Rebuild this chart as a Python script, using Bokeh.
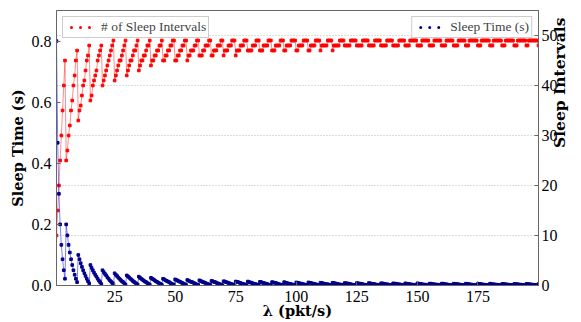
import math
import numpy as np
from bokeh.plotting import figure
from bokeh.models import (Range1d, LinearAxis, FixedTicker, PrintfTickFormatter, Grid,
                          Legend, LegendItem, ColumnDataSource)
from bokeh.embed import file_html
from bokeh.resources import INLINE

# lambda grid (pkt/s), sampled every 0.5 from 1 to 200
lam = np.arange(1, 200.5, 0.5)

# Sleep Time (s)
sleep_time = [
    0.8, 0.467, 0.3, 0.2, 0.133, 0.086, 0.05, 0.022,
    0.2, 0.164, 0.133, 0.108, 0.086, 0.067, 0.05, 0.035, 0.022, 0.011,
    0.1, 0.086, 0.073, 0.061, 0.05, 0.04, 0.031, 0.022, 0.014, 0.007,
    0.067, 0.058, 0.05, 0.042, 0.035, 0.029, 0.022, 0.016, 0.011, 0.005,
    0.05, 0.044, 0.038, 0.033, 0.027, 0.022, 0.017, 0.013, 0.008, 0.004,
    0.04, 0.035, 0.031, 0.026, 0.022, 0.018, 0.014, 0.011, 0.007, 0.003,
    0.033, 0.03, 0.026, 0.022, 0.019, 0.015, 0.012, 0.009, 0.006, 0.003,
    0.029, 0.025, 0.022, 0.019, 0.016, 0.013, 0.011, 0.008, 0.005, 0.003,
    0.025, 0.022, 0.02, 0.017, 0.014, 0.012, 0.009, 0.007, 0.005, 0.002,
    0.022, 0.02, 0.017, 0.015, 0.013, 0.011, 0.008, 0.006, 0.004, 0.002,
    0.02, 0.018, 0.016, 0.014, 0.012, 0.01, 0.008, 0.006, 0.004, 0.002,
    0.018, 0.016, 0.014, 0.012, 0.011, 0.009, 0.007, 0.005, 0.003, 0.002,
    0.017, 0.015, 0.013, 0.011, 0.01, 0.008, 0.006, 0.005, 0.003, 0.002,
    0.015, 0.014, 0.012, 0.011, 0.009, 0.007, 0.006, 0.004, 0.003, 0.001,
    0.014, 0.013, 0.011, 0.01, 0.008, 0.007, 0.005, 0.004, 0.003, 0.001,
    0.013, 0.012, 0.011, 0.009, 0.008, 0.006, 0.005, 0.004, 0.003, 0.001,
    0.013, 0.011, 0.01, 0.009, 0.007, 0.006, 0.005, 0.004, 0.002, 0.001,
    0.012, 0.011, 0.009, 0.008, 0.007, 0.006, 0.005, 0.003, 0.002, 0.001,
    0.011, 0.01, 0.009, 0.008, 0.007, 0.005, 0.004, 0.003, 0.002, 0.001,
    0.011, 0.009, 0.008, 0.007, 0.006, 0.005, 0.004, 0.003, 0.002, 0.001,
    0.01, 0.009, 0.008, 0.007, 0.006, 0.005, 0.004, 0.003, 0.002, 0.001,
    0.01, 0.009, 0.008, 0.007, 0.006, 0.005, 0.004, 0.003, 0.002, 0.001,
    0.009, 0.008, 0.007, 0.006, 0.005, 0.004, 0.004, 0.003, 0.002, 0.001,
    0.009, 0.008, 0.007, 0.006, 0.005, 0.004, 0.003, 0.003, 0.002, 0.001,
    0.008, 0.007, 0.007, 0.006, 0.005, 0.004, 0.003, 0.002, 0.002, 0.001,
    0.008, 0.007, 0.006, 0.006, 0.005, 0.004, 0.003, 0.002, 0.002, 0.001,
    0.008, 0.007, 0.006, 0.005, 0.005, 0.004, 0.003, 0.002, 0.001, 0.001,
    0.007, 0.007, 0.006, 0.005, 0.004, 0.004, 0.003, 0.002, 0.001, 0.001,
    0.007, 0.006, 0.006, 0.005, 0.004, 0.004, 0.003, 0.002, 0.001, 0.001,
    0.007, 0.006, 0.005, 0.005, 0.004, 0.003, 0.003, 0.002, 0.001, 0.001,
    0.007, 0.006, 0.005, 0.005, 0.004, 0.003, 0.003, 0.002, 0.001, 0.001,
    0.006, 0.006, 0.005, 0.004, 0.004, 0.003, 0.003, 0.002, 0.001, 0.001,
    0.006, 0.006, 0.005, 0.004, 0.004, 0.003, 0.002, 0.002, 0.001, 0.001,
    0.006, 0.005, 0.005, 0.004, 0.004, 0.003, 0.002, 0.002, 0.001, 0.001,
    0.006, 0.005, 0.005, 0.004, 0.003, 0.003, 0.002, 0.002, 0.001, 0.001,
    0.006, 0.005, 0.005, 0.004, 0.003, 0.003, 0.002, 0.002, 0.001, 0.001,
    0.006, 0.005, 0.004, 0.004, 0.003, 0.003, 0.002, 0.002, 0.001, 0.001,
    0.005, 0.005, 0.004, 0.004, 0.003, 0.003, 0.002, 0.002, 0.001, 0.001,
    0.005, 0.005, 0.004, 0.004, 0.003, 0.003, 0.002, 0.002, 0.001, 0.001,
    0.005, 0.005, 0.004, 0.004, 0.003, 0.003, 0.002, 0.002, 0.001, 0.001,
    0.005,
]

# # of Sleep Intervals
n_intervals = [
    10, 15, 20, 25, 30, 35, 40, 45,
    25, 27, 30, 32, 35, 37, 40, 42, 45, 47,
    33, 35, 36, 38, 40, 41, 43, 45, 46, 48,
    37, 38, 40, 41, 42, 43, 45, 46, 47, 48,
    40, 41, 42, 43, 44, 45, 46, 47, 48, 49,
    41, 42, 43, 44, 45, 45, 46, 47, 48, 49,
    42, 43, 44, 45, 45, 46, 47, 47, 48, 49,
    43, 44, 45, 45, 46, 46, 47, 48, 48, 49,
    44, 45, 45, 46, 46, 47, 47, 48, 48, 49,
    45, 45, 46, 46, 47, 47, 48, 48, 49, 49,
    45, 45, 46, 46, 47, 47, 48, 48, 49, 49,
    45, 46, 46, 47, 47, 47, 48, 48, 49, 49,
    46, 46, 46, 47, 47, 48, 48, 48, 49, 49,
    46, 46, 47, 47, 47, 48, 48, 48, 49, 49,
    46, 47, 47, 47, 48, 48, 48, 49, 49, 49,
    46, 47, 47, 47, 48, 48, 48, 49, 49, 49,
    47, 47, 47, 47, 48, 48, 48, 49, 49, 49,
    47, 47, 47, 48, 48, 48, 48, 49, 49, 49,
    47, 47, 47, 48, 48, 48, 48, 49, 49, 49,
    47, 47, 48, 48, 48, 48, 49, 49, 49, 49,
    47, 47, 48, 48, 48, 48, 49, 49, 49, 49,
    47, 47, 48, 48, 48, 48, 49, 49, 49, 49,
    47, 48, 48, 48, 48, 48, 49, 49, 49, 49,
    47, 48, 48, 48, 48, 48, 49, 49, 49, 49,
    48, 48, 48, 48, 48, 49, 49, 49, 49, 49,
    48, 48, 48, 48, 48, 49, 49, 49, 49, 49,
    48, 48, 48, 48, 48, 49, 49, 49, 49, 49,
    48, 48, 48, 48, 48, 49, 49, 49, 49, 49,
    48, 48, 48, 48, 48, 49, 49, 49, 49, 49,
    48, 48, 48, 48, 49, 49, 49, 49, 49, 49,
    48, 48, 48, 48, 49, 49, 49, 49, 49, 49,
    48, 48, 48, 48, 49, 49, 49, 49, 49, 49,
    48, 48, 48, 48, 49, 49, 49, 49, 49, 49,
    48, 48, 48, 48, 49, 49, 49, 49, 49, 49,
    48, 48, 48, 49, 49, 49, 49, 49, 49, 49,
    48, 48, 48, 49, 49, 49, 49, 49, 49, 49,
    48, 48, 48, 49, 49, 49, 49, 49, 49, 49,
    48, 48, 48, 49, 49, 49, 49, 49, 49, 49,
    48, 48, 48, 49, 49, 49, 49, 49, 49, 49,
    48, 48, 49, 49, 49, 49, 49, 49, 49, 49,
    48,
]

x_ticks = [25, 50, 75, 100, 125, 150, 175]
left_ticks = [0.0, 0.2, 0.4, 0.6, 0.8]
right_ticks = [0, 10, 20, 30, 40, 50]
grid_ticks = [10, 20, 30, 40, 50]

FONT = "Liberation Serif"
LFONT = "DejaVu Serif"
AX = "#666666"

src = ColumnDataSource(dict(lam=lam, s=sleep_time, n=n_intervals))

p = figure(width=581, height=322, output_backend="svg", toolbar_location=None,
           x_range=Range1d(1, 200), y_range=Range1d(0, 0.9),
           min_border_left=56, min_border_right=38, min_border_top=10, min_border_bottom=37)
p.extra_y_ranges = {"n": Range1d(0, 55)}
p.xgrid.visible = False
p.ygrid.visible = False
p.outline_line_color = AX
p.background_fill_color = "white"

grid = Grid(dimension=1, y_range_name="n", ticker=FixedTicker(ticks=grid_ticks),
            grid_line_color="#bbbbbb", grid_line_dash="1 2", grid_line_width=1)
p.add_layout(grid)

# series
p.line("lam", "n", source=src, y_range_name="n", line_color="red", line_alpha=0.45, line_width=1)
p.scatter("lam", "n", source=src, y_range_name="n", marker="square", size=2.6, color="red")
p.line("lam", "s", source=src, line_color="blue", line_alpha=0.5, line_width=1)
p.scatter("lam", "s", source=src, marker="square", size=2.6, color="#00008b")

def style(ax):
    ax.axis_line_color = AX
    ax.major_tick_line_color = AX
    ax.major_tick_in = 4
    ax.major_tick_out = 0
    ax.minor_tick_line_color = None
    ax.major_label_text_font = FONT
    ax.major_label_text_font_size = "16px"
    ax.major_label_text_color = "black"
    ax.axis_label_text_font = LFONT
    ax.axis_label_text_font_style = "bold"
    ax.axis_label_text_font_size = "14.5px"
    ax.axis_label_text_color = "black"

xa = p.xaxis[0]
xa.ticker = FixedTicker(ticks=x_ticks)
style(xa)
xa.major_label_standoff = 5
xa.axis_label = "λ (pkt/s)"
xa.axis_label_standoff = -3

ya = p.yaxis[0]
ya.ticker = FixedTicker(ticks=left_ticks)
ya.formatter = PrintfTickFormatter(format="%.1f")
style(ya)
ya.major_label_standoff = 5
ya.axis_label = "Sleep Time (s)"
ya.axis_label_standoff = 3

ra = LinearAxis(y_range_name="n", ticker=FixedTicker(ticks=right_ticks))
style(ra)
ra.major_label_standoff = 3
ra.axis_label = "Sleep Intervals"
ra.axis_label_text_font_size = "15.5px"
ra.axis_label_standoff = -1
try:
    ra.axis_label_orientation = math.pi / 2
except Exception:
    pass
p.add_layout(ra, "right")

# legends (three-dot samples)
leg_red = p.line(x=[np.nan], y=[np.nan], line_color="red", line_width=3, line_dash="0 9",
                 line_dash_offset=3, line_cap="round")
leg_blue = p.line(x=[np.nan], y=[np.nan], line_color="#00008b", line_width=3, line_dash="0 9",
                  line_dash_offset=3, line_cap="round")

def mk_legend(label, r, loc):
    return Legend(items=[LegendItem(label=label, renderers=[r])], location=loc, margin=6,
                  padding=2, glyph_width=28, glyph_height=16, label_height=16,
                  label_standoff=8, label_text_font=FONT, label_text_font_size="13.5px",
                  border_line_color="#999999", background_fill_alpha=1.0, spacing=0)

p.add_layout(mk_legend("# of Sleep Intervals", leg_red, "top_left"))
p.add_layout(mk_legend("Sleep Time (s)", leg_blue, "top_right"))

open("out.html", "w").write(file_html(p, INLINE))
